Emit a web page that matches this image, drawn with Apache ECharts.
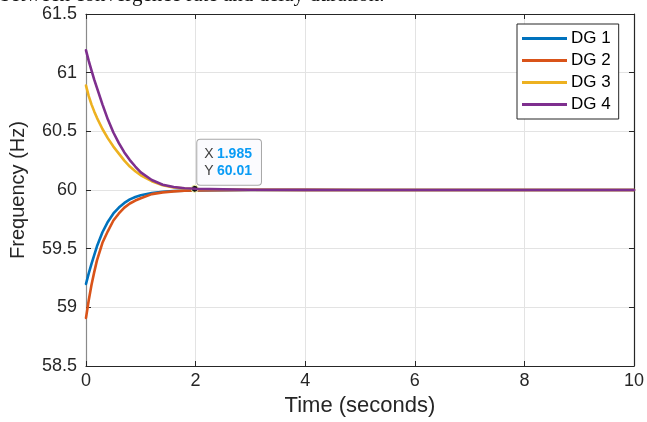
<!DOCTYPE html>
<html>
<head>
<meta charset="utf-8">
<script src="https://cdn.jsdelivr.net/npm/echarts@6/dist/echarts.min.js"></script>
<style>
html,body{margin:0;padding:0;background:#fff;}
#chart{width:647px;height:422px;}
</style>
</head>
<body>
<div id="chart"></div>
<script>
// Time samples (seconds)
const time = [0, 0.05, 0.1, 0.15, 0.2, 0.3, 0.4, 0.5, 0.6, 0.7, 0.8, 0.9, 1.0, 1.2, 1.4, 1.6, 1.8, 2.0, 2.5, 3, 4, 5, 6, 7, 8, 9, 10];
// Frequencies (Hz)
const dg1 = [59.20, 59.29, 59.37, 59.445, 59.52, 59.64, 59.73, 59.80, 59.85, 59.89, 59.92, 59.94, 59.955, 59.975, 59.985, 59.992, 59.995, 59.997, 59.999, 60, 60, 60, 60, 60, 60, 60, 60];
const dg2 = [58.91, 59.06, 59.19, 59.30, 59.40, 59.55, 59.65, 59.74, 59.80, 59.85, 59.885, 59.91, 59.93, 59.965, 59.98, 59.988, 59.993, 59.996, 59.998, 60, 60, 60, 60, 60, 60, 60, 60];
const dg3 = [60.89, 60.80, 60.73, 60.67, 60.615, 60.52, 60.44, 60.37, 60.31, 60.25, 60.20, 60.16, 60.125, 60.075, 60.04, 60.022, 60.013, 60.008, 60.004, 60.002, 60.001, 60, 60, 60, 60, 60, 60];
const dg4 = [61.19, 61.10, 61.02, 60.94, 60.87, 60.73, 60.60, 60.49, 60.40, 60.32, 60.255, 60.20, 60.15, 60.085, 60.045, 60.025, 60.015, 60.01, 60.005, 60.002, 60.001, 60, 60, 60, 60, 60, 60];
const seriesNames = ['DG 1', 'DG 2', 'DG 3', 'DG 4'];
const seriesColors = ['#0072BD', '#D95319', '#EDB120', '#7E2F8E'];
const xTicks = [0, 2, 4, 6, 8, 10];
const yTicks = [58.5, 59, 59.5, 60, 60.5, 61, 61.5];
const tip = { x: 1.985, y: 60.01, xText: '1.985', yText: '60.01' };
const caption = 'between convergence rate and delay duration.';

const values = [dg1, dg2, dg3, dg4];
const font = 'Liberation Sans, Arial, Helvetica, sans-serif';
const dark = '#262626';

const chart = echarts.init(document.getElementById('chart'), null, { renderer: 'canvas' });

const series = values.map((arr, i) => {
  const s = {
    name: seriesNames[i],
    type: 'line',
    xAxisIndex: 0,
    yAxisIndex: 0,
    data: time.map((t, k) => [t, arr[k]]),
    showSymbol: false,
    symbol: 'none',
    smooth: false,
    lineStyle: { width: 2.6, color: seriesColors[i], join: 'round', cap: 'round' },
    itemStyle: { color: seriesColors[i] },
    z: 2 + i
  };
  if (i === 3) {
    s.markPoint = {
      symbol: 'circle',
      symbolSize: 7,
      silent: true,
      itemStyle: { color: '#111', borderColor: '#ffffb0', borderWidth: 1 },
      data: [{ coord: [tip.x, tip.y] }],
      label: {
        show: true,
        position: [6.5, -45],
        align: 'left',
        verticalAlign: 'top',
        backgroundColor: '#fbfbfe',
        borderColor: '#a8a8a8',
        borderWidth: 1,
        borderRadius: 3,
        padding: [6, 9, 5, 7],
        formatter: '{k|X} {v|' + tip.xText + '}\n{k|Y} {v|' + tip.yText + '}',
        rich: {
          k: { color: '#404040', fontSize: 14, fontFamily: font, lineHeight: 17 },
          v: { color: '#0a9cf5', fontSize: 14, fontWeight: 'bold', fontFamily: font, lineHeight: 17 }
        }
      }
    };
  }
  return s;
});

const option = {
  animation: false,
  backgroundColor: '#fff',
  graphic: [{
    type: 'text',
    left: 0,
    top: -15,
    style: { text: caption, font: '21px "Liberation Serif", "Times New Roman", serif', fill: '#111' }
  }],
  grid: { left: 86, right: 13, top: 14, bottom: 56, containLabel: false },
  legend: {
    data: seriesNames,
    orient: 'vertical',
    left: 517,
    top: 24,
    itemWidth: 45,
    itemHeight: 3,
    itemGap: 5,
    icon: 'rect',
    padding: [6, 8, 6, 5],
    borderColor: '#262626',
    borderWidth: 1,
    backgroundColor: '#fff',
    textStyle: { fontSize: 17, color: '#000', fontFamily: font, padding: [0, 0, 0, -1] }
  },
  xAxis: [{
    type: 'value',
    min: 0, max: 10, interval: 2,
    name: 'Time (seconds)',
    nameLocation: 'middle',
    nameGap: 28,
    nameTextStyle: { fontSize: 22, color: dark, fontFamily: font },
    axisLine: { show: true, onZero: false, lineStyle: { color: dark, width: 1.2 } },
    axisTick: { show: true, inside: true, length: 5, lineStyle: { color: dark } },
    axisLabel: { fontSize: 18, color: dark, fontFamily: font, margin: 6 },
    splitLine: { show: true, lineStyle: { color: '#e3e3e3', width: 1 } }
  }, {
    type: 'value', position: 'top',
    min: 0, max: 10, interval: 2,
    axisLine: { show: true, onZero: false, lineStyle: { color: dark, width: 1.2 } },
    axisTick: { show: true, inside: true, length: 5, lineStyle: { color: dark } },
    axisLabel: { show: false },
    splitLine: { show: false }
  }],
  yAxis: [{
    type: 'value',
    min: 58.5, max: 61.5, interval: 0.5,
    name: 'Frequency (Hz)',
    nameLocation: 'middle',
    nameGap: 58,
    nameTextStyle: { fontSize: 20, color: dark, fontFamily: font },
    axisLine: { show: true, onZero: false, lineStyle: { color: '#8a8a8a', width: 1.2 } },
    axisTick: { show: true, inside: true, length: 5, lineStyle: { color: dark } },
    axisLabel: { fontSize: 18, color: dark, fontFamily: font, margin: 9 },
    splitLine: { show: true, lineStyle: { color: '#e3e3e3', width: 1 } }
  }, {
    type: 'value', position: 'right',
    min: 58.5, max: 61.5, interval: 0.5,
    axisLine: { show: true, onZero: false, lineStyle: { color: dark, width: 1.2 } },
    axisTick: { show: true, inside: true, length: 5, lineStyle: { color: dark } },
    axisLabel: { show: false },
    splitLine: { show: false }
  }],
  series: series
};

chart.setOption(option);
</script>
</body>
</html>
